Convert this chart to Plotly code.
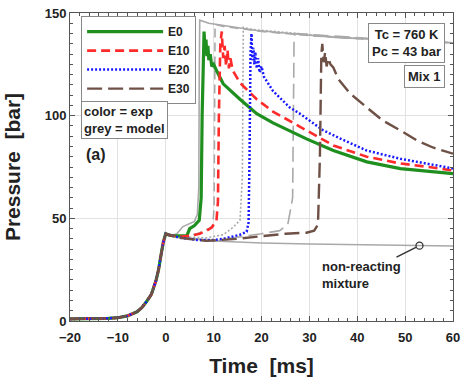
import plotly.graph_objects as go

FONT = "Liberation Sans, Arial, sans-serif"

# ---- common compression stroke (all mixtures) ----
t_comp = [-20, -15, -12, -10, -8, -6, -5, -4, -3, -2, -1.5, -1, -0.5, 0]
p_comp = [1.0, 1.1, 1.3, 1.6, 2.5, 4.5, 6.5, 9.5, 13, 20, 25, 32, 38.5, 42.5]

# ---- non-reacting mixture (model) ----
t_nr = [0.5, 1.5, 3, 6, 10, 15, 20, 30, 40, 50, 60]
p_nr = [42, 41.5, 41, 40, 39, 38.5, 38, 37.5, 37.2, 36.8, 36.5]
nr_mark_t = 53
nr_mark_p = 36.7

# ---- experiments ----
t_e0 = [0.5, 1.5, 3, 4.4, 5, 6, 7.0, 7.4, 7.6, 7.8, 8.0, 8.2, 8.4, 8.6, 8.8, 9.0, 9.3, 9.6, 10, 10.6,
        12, 15.5, 19, 22.4, 25.9, 29.4, 35, 42, 49, 55, 60]
p_e0 = [42, 41.5, 41.5, 41.5, 45, 46.5, 49, 60, 100, 135, 141, 132, 137, 129, 134, 127, 130, 124, 125, 122,
        115.5, 108, 101, 96.5, 92.5, 88.7, 83, 77.5, 74.2, 72.8, 71.8]

t_e10 = [0.5, 1.5, 3, 5, 7.1, 8.5, 9.6, 10.6, 10.9, 11.1, 11.4, 11.7, 12.0, 12.3, 12.6, 12.9, 13.2, 13.5, 14,
         15.5, 19, 22.4, 25.9, 29.4, 35, 42, 49, 55, 60]
p_e10 = [42, 41.5, 41, 41.5, 42.5, 44, 45.5, 49, 58, 100, 135, 141, 128, 134, 124, 132, 123, 128, 122,
         116, 108, 102, 97.5, 93, 85.5, 80, 76.7, 75, 73.3]

t_e20 = [0.5, 1.5, 3, 6.5, 10, 12, 15.5, 16.9, 17.3, 17.5, 17.7, 17.9, 18.1, 18.3, 18.5, 18.7, 19.0, 19.3,
         19.6, 20, 20.5, 22.4, 25.9, 28, 32.8, 36.3, 42, 49, 55, 60]
p_e20 = [42, 41.5, 40.5, 39.5, 39.5, 40, 42, 43.5, 48, 80, 130, 140, 127, 133, 125, 131, 123, 128,
         121, 124, 119, 112, 104, 101, 93, 89, 83, 79, 76.5, 74.3]

t_e30 = [0.5, 1.5, 3, 6.5, 8.5, 14.8, 21, 25, 29.4, 31, 31.8, 32.2, 32.5, 32.7, 33, 33.3, 33.6, 34, 34.4,
         35, 36, 38.4, 42, 45.3, 49, 52.4, 55.8, 60]
p_e30 = [42, 41.5, 40.5, 39.5, 39, 40, 41.5, 42.5, 43, 44, 47, 80, 130, 135, 126, 131, 124, 128, 125,
         123.5, 118, 111, 104, 97.7, 92.8, 88, 84.5, 81.5]

# ---- models ----
t_m0 = [0.5, 1.5, 2.3, 3.6, 5, 6, 6.6, 6.9, 7.0, 7.1, 9, 12, 19, 26, 36, 41, 50, 60]
p_m0 = [42, 41.8, 42.5, 46, 47.5, 48.5, 52, 65, 120, 146.5, 145, 144, 141.5, 140, 138, 137.5, 136.5, 135.5]

t_m10 = [0.5, 1.5, 3, 5, 7.1, 9, 9.8, 10.1, 10.2, 10.3, 12, 20, 30, 40, 50, 60]
p_m10 = [42, 41.5, 41, 41.5, 43, 45, 46.5, 55, 120, 144.5, 143.5, 141, 139, 137.5, 136.5, 135.5]

t_m20 = [0.5, 1.5, 3, 8.5, 12, 14, 15.5, 16.0, 16.1, 16.2, 18, 25, 35, 45, 60]
p_m20 = [42, 41.5, 41, 40.5, 42, 45.5, 49, 70, 130, 143, 142, 140.5, 138.5, 137, 135.5]

t_m30 = [0.5, 1.5, 3, 10.6, 14, 20, 23.8, 25.5, 26.5, 26.7, 26.8, 27.0, 30, 40, 50, 60]
p_m30 = [42, 41.5, 40.5, 39, 40.5, 42.5, 44, 47, 60, 110, 138, 140, 139.5, 138, 136.5, 135.5]

names = ["E0", "E10", "E20", "E30"]
exp_t = [t_e0, t_e10, t_e20, t_e30]
exp_p = [p_e0, p_e10, p_e20, p_e30]
mod_t = [t_m0, t_m10, t_m20, t_m30]
mod_p = [p_m0, p_m10, p_m20, p_m30]
colors = ["#1f8f1f", "#ff2a2a", "#1a1aff", "#6e5046"]
dashes = ["solid", "9px,5px", "2px,2px", "15px,6px"]
widths = [3.2, 2.6, 2.5, 2.4]
grey = "#a9a9a9"

fig = go.Figure()

# non-reacting model
fig.add_trace(go.Scatter(x=t_comp + t_nr, y=p_comp + p_nr, mode="lines",
                         line=dict(color=grey, width=1.5), showlegend=False, hoverinfo="skip"))
# models
for i in range(4):
    fig.add_trace(go.Scatter(x=[0] + mod_t[i], y=[p_comp[-1]] + mod_p[i], mode="lines",
                             line=dict(color=grey, width=1.6, dash=dashes[i]),
                             showlegend=False, hoverinfo="skip"))
# experiments
for i in range(4):
    fig.add_trace(go.Scatter(x=t_comp + exp_t[i], y=p_comp + exp_p[i], mode="lines", name=names[i],
                             line=dict(color=colors[i], width=widths[i], dash=dashes[i])))

# marker for non-reacting annotation
fig.add_trace(go.Scatter(x=[nr_mark_t], y=[nr_mark_p], mode="markers",
                         marker=dict(symbol="circle-open", size=7, color="#333", line=dict(width=1.3)),
                         showlegend=False, hoverinfo="skip"))

bold = dict(family=FONT, size=13, color="#222", weight="bold")
legfont = dict(family=FONT, size=12, color="#222", weight="bold")

fig.update_layout(
    width=463, height=377,
    margin=dict(l=70, r=10, t=13, b=56),
    paper_bgcolor="white", plot_bgcolor="white",
    font=dict(family=FONT, color="#222"),
    showlegend=True,
    legend=dict(x=0.029, y=0.99, xanchor="left", yanchor="top",
                bgcolor="white", bordercolor="#888", borderwidth=1,
                font=legfont, itemwidth=76, tracegroupgap=0),
    xaxis=dict(range=[-20, 60], dtick=10, tick0=0, ticks="inside", ticklen=5, tickcolor="#555",
               showline=True, linecolor="#555", linewidth=1, mirror="allticks",
               showgrid=True, gridcolor="#e2e2e2", zeroline=False, automargin=False,
               tickfont=bold, ticklabelstandoff=4,
               minor=dict(dtick=2, ticks="inside", ticklen=3, tickcolor="#555", showgrid=False),
               title=dict(text="Time  [ms]", font=dict(family=FONT, size=21, color="#222", weight="bold"),
                          standoff=15)),
    yaxis=dict(range=[0, 150], dtick=50, tick0=0, ticks="inside", ticklen=5, tickcolor="#555",
               showline=True, linecolor="#555", linewidth=1, mirror="allticks",
               showgrid=True, gridcolor="#e2e2e2", zeroline=False, automargin=False,
               tickfont=bold,
               minor=dict(dtick=5, ticks="inside", ticklen=3, tickcolor="#555", showgrid=False),
               title=dict(text="Pressure  [bar]", font=dict(family=FONT, size=21, color="#222", weight="bold"),
                          standoff=18)),
)

fig.add_annotation(xref="paper", yref="paper", x=0.029, y=0.715, xanchor="left", yanchor="top",
                   text="color = exp<br>grey = model", showarrow=False, align="left",
                   font=bold, bgcolor="white", bordercolor="#888", borderwidth=1, borderpad=2)
fig.add_annotation(xref="paper", yref="paper", x=0.068, y=0.54, xanchor="center", yanchor="middle",
                   text="(a)", showarrow=False, font=dict(family=FONT, size=16, color="#222", weight="bold"))
fig.add_annotation(xref="paper", yref="paper", x=0.979, y=0.968, xanchor="right", yanchor="top",
                   text="Tc = 760 K<br>Pc = 43 bar", showarrow=False, align="center",
                   font=bold, bgcolor="white", bordercolor="#888", borderwidth=1, borderpad=3)
fig.add_annotation(xref="paper", yref="paper", x=0.979, y=0.831, xanchor="right", yanchor="top",
                   text="Mix 1", showarrow=False, font=bold,
                   bgcolor="white", bordercolor="#888", borderwidth=1, borderpad=3)
fig.add_annotation(x=nr_mark_t, y=nr_mark_p, ax=-58, ay=29, text="non-reacting<br>mixture",
                   showarrow=True, arrowhead=0, arrowwidth=1.5, arrowcolor="#333", standoff=4,
                   align="left", font=bold)

fig.write_html("out.html")
